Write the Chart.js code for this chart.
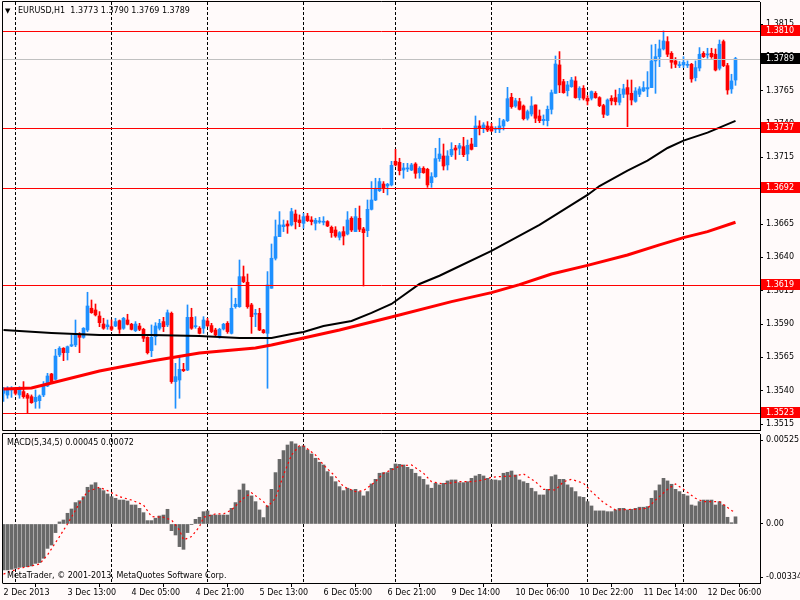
<!DOCTYPE html>
<html>
<head>
<meta charset="utf-8">
<title>EURUSD,H1</title>
<script src="https://cdn.jsdelivr.net/npm/chart.js@4.4.1/dist/chart.umd.min.js"></script>
<style>
  html, body { margin: 0; padding: 0; background: #fffafa; }
  #wrap { position: relative; width: 800px; height: 600px; overflow: hidden; }
  #priceChart { position: absolute; left: 0; top: 0; }
  #macdChart { position: absolute; left: 0; top: 433px; }
</style>
</head>
<body>
<div id="wrap">
  <canvas id="priceChart" width="800" height="433"></canvas>
  <canvas id="macdChart" width="800" height="167"></canvas>
</div>
<script>
/* EURUSD H1 — MetaTrader style candles + MA + MACD */

// ─── DATA ─────────────────────────────────────────────────
// one entry per hourly bar, bar 0 = 2 Dec 2013 21:00
const opens = [
  1.3538, 1.35367, 1.35405, 1.3541, 1.35368, 1.35393, 1.35368, 1.35355, 1.35318, 1.35325,
  1.35368, 1.35435, 1.35525, 1.35485, 1.35668, 1.35718, 1.35685, 1.35735, 1.35743, 1.35825,
  1.358, 1.35855, 1.36018, 1.36005, 1.3596, 1.359, 1.3588, 1.3588, 1.35885, 1.35925,
  1.35868, 1.3593, 1.35898, 1.3585, 1.35885, 1.3586, 1.358, 1.357, 1.35805, 1.35868,
  1.35918, 1.35893, 1.3598, 1.35468, 1.3548, 1.3556, 1.35555, 1.3595, 1.3588, 1.35868,
  1.35868, 1.35923, 1.35888, 1.35855, 1.35805, 1.35863, 1.35905, 1.3583, 1.3603, 1.3603,
  1.36255, 1.36213, 1.36043, 1.35973, 1.3598, 1.35855, 1.3583, 1.36168, 1.36393, 1.36555,
  1.3663, 1.3665, 1.36643, 1.36725, 1.3668, 1.36655, 1.3671, 1.3668, 1.36655, 1.36665,
  1.36663, 1.36668, 1.36625, 1.36605, 1.3655, 1.36593, 1.36575, 1.36693, 1.36593, 1.36693,
  1.36613, 1.366, 1.3676, 1.3683, 1.369, 1.3695, 1.36935, 1.36943, 1.3712, 1.37113,
  1.37055, 1.37063, 1.37055, 1.371, 1.37035, 1.37068, 1.3706, 1.3696, 1.37005, 1.3714,
  1.3716, 1.37093, 1.37168, 1.3722, 1.37218, 1.3723, 1.37175, 1.3725, 1.3723, 1.37385,
  1.37368, 1.37385, 1.3738, 1.3736, 1.3736, 1.37385, 1.37425, 1.376, 1.37535, 1.37568,
  1.37535, 1.37443, 1.37475, 1.37543, 1.3746, 1.37425, 1.37425, 1.3751, 1.3763, 1.37843,
  1.37718, 1.3765, 1.3768, 1.37723, 1.37598, 1.37668, 1.37593, 1.37593, 1.3763, 1.37598,
  1.37538, 1.37468, 1.37593, 1.37598, 1.37563, 1.37623, 1.37673, 1.3763, 1.3757, 1.37623,
  1.37648, 1.37663, 1.37673, 1.37873, 1.37905, 1.37963, 1.38018, 1.3793, 1.37873, 1.37838,
  1.37843, 1.3784, 1.37848, 1.37748, 1.3782, 1.3793, 1.37918, 1.3793, 1.37923, 1.37818,
  1.38018, 1.37838, 1.37663, 1.3773
];
const highs = [
  1.35425, 1.3543, 1.3543, 1.35418, 1.3543, 1.35468, 1.3538, 1.35368, 1.35405, 1.35368,
  1.35468, 1.3553, 1.3553, 1.3571, 1.3573, 1.35723, 1.35735, 1.35818, 1.3593, 1.35835,
  1.35873, 1.36138, 1.3608, 1.3605, 1.35993, 1.35943, 1.3593, 1.3593, 1.35943, 1.3593,
  1.3595, 1.35973, 1.35905, 1.35918, 1.35905, 1.35868, 1.35805, 1.35893, 1.3591, 1.35935,
  1.3595, 1.36005, 1.3599, 1.35605, 1.3565, 1.35605, 1.36043, 1.36018, 1.35955, 1.3588,
  1.35955, 1.35943, 1.35905, 1.35868, 1.35868, 1.35905, 1.35918, 1.3617, 1.36093, 1.3638,
  1.36335, 1.36275, 1.36055, 1.3601, 1.36018, 1.3586, 1.36293, 1.365, 1.3668, 1.36743,
  1.3668, 1.36675, 1.36768, 1.36755, 1.36718, 1.3673, 1.3673, 1.36705, 1.36693, 1.367,
  1.36705, 1.36675, 1.36635, 1.3663, 1.36593, 1.3663, 1.36743, 1.36705, 1.36768, 1.36785,
  1.36625, 1.3683, 1.36968, 1.36993, 1.36993, 1.36968, 1.36955, 1.3712, 1.3721, 1.37143,
  1.37105, 1.37105, 1.37105, 1.3711, 1.3708, 1.3708, 1.37068, 1.37035, 1.37218, 1.37293,
  1.3725, 1.372, 1.3726, 1.3724, 1.37255, 1.373, 1.3728, 1.37293, 1.3746, 1.37425,
  1.3741, 1.37418, 1.37405, 1.3738, 1.37443, 1.37435, 1.37675, 1.3763, 1.37593, 1.37593,
  1.37543, 1.37505, 1.37605, 1.37543, 1.37505, 1.37468, 1.37535, 1.37655, 1.3791, 1.37943,
  1.37735, 1.3772, 1.3775, 1.37755, 1.3768, 1.37688, 1.37613, 1.37648, 1.37643, 1.37605,
  1.37548, 1.37588, 1.37613, 1.37655, 1.37668, 1.37698, 1.3773, 1.3773, 1.37673, 1.3768,
  1.37718, 1.37793, 1.37993, 1.37998, 1.3803, 1.38098, 1.38055, 1.37943, 1.37898, 1.37868,
  1.37905, 1.37873, 1.37855, 1.37873, 1.37973, 1.37943, 1.37968, 1.37968, 1.37963, 1.3803,
  1.3803, 1.37855, 1.37773, 1.379
];
const lows = [
  1.3532, 1.35343, 1.3535, 1.35368, 1.35343, 1.35343, 1.3523, 1.35305, 1.35268, 1.35268,
  1.35355, 1.3543, 1.35455, 1.3548, 1.35655, 1.35625, 1.3563, 1.3573, 1.3573, 1.35685,
  1.35793, 1.35843, 1.3598, 1.3596, 1.3588, 1.3586, 1.3586, 1.3585, 1.3588, 1.3583,
  1.3586, 1.35893, 1.35855, 1.35843, 1.3585, 1.35768, 1.35675, 1.35655, 1.35743, 1.35855,
  1.35843, 1.3588, 1.35455, 1.35268, 1.35343, 1.35543, 1.3555, 1.3586, 1.35868, 1.35825,
  1.3583, 1.3588, 1.35835, 1.35805, 1.35793, 1.35855, 1.3583, 1.35825, 1.36018, 1.36025,
  1.3621, 1.36018, 1.3583, 1.3588, 1.3585, 1.3583, 1.35418, 1.36168, 1.3638, 1.36555,
  1.36593, 1.3658, 1.36635, 1.36613, 1.3663, 1.36618, 1.36668, 1.36643, 1.36605, 1.36655,
  1.36643, 1.3663, 1.3655, 1.3655, 1.3653, 1.36493, 1.36568, 1.36593, 1.36593, 1.36593,
  1.36185, 1.36555, 1.36755, 1.36825, 1.36893, 1.36885, 1.36868, 1.36935, 1.37085, 1.37018,
  1.36993, 1.37043, 1.3705, 1.36993, 1.36993, 1.3703, 1.36925, 1.36925, 1.37, 1.3712,
  1.37055, 1.37055, 1.37155, 1.37135, 1.3717, 1.37155, 1.37125, 1.37205, 1.3723, 1.37318,
  1.37335, 1.37343, 1.37343, 1.37335, 1.37335, 1.37355, 1.37418, 1.37518, 1.37525, 1.37505,
  1.3743, 1.3743, 1.3746, 1.3741, 1.3741, 1.37393, 1.37385, 1.37475, 1.3763, 1.37635,
  1.3763, 1.3761, 1.37675, 1.37593, 1.3758, 1.3758, 1.37543, 1.3758, 1.37593, 1.3753,
  1.37448, 1.37463, 1.37543, 1.37543, 1.37543, 1.37598, 1.3738, 1.37543, 1.37563, 1.37605,
  1.37643, 1.37605, 1.37673, 1.3763, 1.3783, 1.37955, 1.37905, 1.37818, 1.37823, 1.37823,
  1.37823, 1.37823, 1.37713, 1.37723, 1.37798, 1.37898, 1.37893, 1.37893, 1.37798, 1.37805,
  1.3783, 1.37623, 1.3763, 1.3769
];
const closes = [
  1.3541, 1.35418, 1.35415, 1.3538, 1.35418, 1.35355, 1.35343, 1.3531, 1.3535, 1.3536,
  1.35443, 1.3551, 1.35468, 1.3566, 1.35718, 1.35685, 1.3573, 1.35745, 1.3583, 1.358,
  1.35868, 1.36035, 1.35985, 1.35968, 1.3591, 1.35868, 1.35893, 1.3586, 1.35918, 1.3586,
  1.35943, 1.35898, 1.3586, 1.359, 1.3586, 1.35793, 1.35685, 1.358, 1.35885, 1.35905,
  1.3588, 1.35985, 1.35468, 1.35505, 1.3556, 1.3555, 1.3595, 1.35868, 1.35885, 1.3583,
  1.3593, 1.35888, 1.35843, 1.35818, 1.3586, 1.35898, 1.35843, 1.36018, 1.36048, 1.36255,
  1.36218, 1.3603, 1.35955, 1.3598, 1.35855, 1.35835, 1.36193, 1.36393, 1.36555, 1.36643,
  1.36643, 1.36635, 1.36743, 1.36668, 1.3666, 1.36705, 1.36675, 1.36668, 1.36678, 1.36673,
  1.36668, 1.36635, 1.36585, 1.3656, 1.36585, 1.3656, 1.3668, 1.36605, 1.36705, 1.3661,
  1.36585, 1.3676, 1.3683, 1.36918, 1.36968, 1.36918, 1.36948, 1.3709, 1.37093, 1.3705,
  1.3707, 1.37068, 1.37093, 1.3703, 1.37068, 1.37035, 1.36943, 1.37005, 1.3714, 1.37175,
  1.37085, 1.3716, 1.3721, 1.37205, 1.37238, 1.3717, 1.3724, 1.3721, 1.37385, 1.37368,
  1.37393, 1.37355, 1.37348, 1.37368, 1.37385, 1.37425, 1.3759, 1.3753, 1.37575, 1.3751,
  1.3744, 1.37493, 1.37535, 1.37443, 1.37425, 1.37435, 1.3751, 1.37635, 1.3785, 1.37693,
  1.37635, 1.37693, 1.3773, 1.37598, 1.37668, 1.37593, 1.37573, 1.37643, 1.37598, 1.37538,
  1.37473, 1.3758, 1.37573, 1.37568, 1.37623, 1.37663, 1.37623, 1.3758, 1.37648, 1.37663,
  1.37673, 1.37673, 1.37873, 1.37905, 1.37963, 1.38023, 1.37923, 1.37863, 1.37848, 1.37843,
  1.37863, 1.37843, 1.37738, 1.37823, 1.37923, 1.37905, 1.3792, 1.37905, 1.37805, 1.37998,
  1.37838, 1.37655, 1.37723, 1.3789
];

// moving averages, read at a few bars along each line
const maBlackBars = [0, 12, 24, 37, 49, 59, 67, 72, 75, 80, 87, 92, 97, 104, 109, 112, 122, 134, 146, 149, 156, 161, 166, 170, 176, 183];
const maBlackVals = [1.35855, 1.35833, 1.35818, 1.35818, 1.3581, 1.35795, 1.35795, 1.35825, 1.3584, 1.35885, 1.35923, 1.35983, 1.3605, 1.362, 1.36262, 1.36305, 1.36448, 1.36643, 1.36868, 1.36935, 1.3705, 1.37125, 1.3722, 1.37275, 1.37335, 1.37423];
const maRedBars = [0, 7, 12, 24, 37, 49, 63, 67, 75, 84, 97, 112, 122, 129, 137, 146, 156, 164, 170, 176, 183];
const maRedVals = [1.35413, 1.3542, 1.35458, 1.35548, 1.35623, 1.35683, 1.3572, 1.35743, 1.35795, 1.35855, 1.35953, 1.36068, 1.36135, 1.36195, 1.36275, 1.3634, 1.36418, 1.36493, 1.36548, 1.36593, 1.36663];

// MACD(5,34,5) histogram, one per bar
const macdHist = [
  -0.00288, -0.00288, -0.00284, -0.00278, -0.00272, -0.00268, -0.00268, -0.00263, -0.00247, -0.00242,
  -0.00215, -0.00153, -0.00132, -0.00054, 0.00013, 0.00025, 0.00067, 0.00094, 0.00134, 0.00146,
  0.00171, 0.0023, 0.00245, 0.00259, 0.00224, 0.00209, 0.00188, 0.00171, 0.00161, 0.0015,
  0.0015, 0.00144, 0.00119, 0.00119, 0.00098, 0.00071, 0.00021, 0.00021, 0.00036, 0.0005,
  0.00056, 0.00092, -0.00042, -0.00069, -0.00142, -0.00159, -0.00054, -0.00002, 0.00029, 0.00042,
  0.00077, 0.00082, 0.00056, 0.00056, 0.00056, 0.00056, 0.00056, 0.00098, 0.00134, 0.00213,
  0.00251, 0.00209, 0.00176, 0.0014, 0.00088, 0.0004, 0.00113, 0.00217, 0.00322, 0.00405,
  0.0046, 0.00495, 0.00516, 0.00502, 0.00485, 0.00489, 0.00464, 0.00439, 0.00412, 0.00387,
  0.0037, 0.00328, 0.00297, 0.00265, 0.00234, 0.00209, 0.00224, 0.00213, 0.00217, 0.00203,
  0.00176, 0.00203, 0.00251, 0.0028, 0.00318, 0.00322, 0.00322, 0.00349, 0.00376, 0.00374,
  0.0037, 0.00355, 0.00343, 0.00318, 0.00297, 0.0028, 0.00245, 0.00224, 0.00255, 0.00245,
  0.00255, 0.0027, 0.00276, 0.00276, 0.00259, 0.00259, 0.00265, 0.00286, 0.00301, 0.00311,
  0.00301, 0.00286, 0.00276, 0.00276, 0.00272, 0.00318, 0.00324, 0.00332, 0.00307, 0.00276,
  0.00265, 0.00255, 0.00224, 0.00203, 0.00182, 0.00182, 0.00217, 0.00297, 0.00307, 0.0028,
  0.0028, 0.00245, 0.00228, 0.00203, 0.00171, 0.00167, 0.0014, 0.00113, 0.00082, 0.00082,
  0.00082, 0.00077, 0.00077, 0.00088, 0.00098, 0.00098, 0.00088, 0.00092, 0.00098, 0.00105,
  0.00105, 0.00109, 0.00161, 0.00209, 0.00245, 0.00286, 0.0027, 0.00249, 0.00217, 0.00203,
  0.00186, 0.00176, 0.00119, 0.00113, 0.0014, 0.0015, 0.0015, 0.0015, 0.00119, 0.0014,
  0.00119, 0.00042, 0.00008, 0.00045
];
// signal line, read at a few bars
const signalBars = [0, 4, 6, 9, 11, 14, 16, 19, 21, 24, 26, 29, 32, 35, 37, 40, 42, 44, 45, 47,
  49, 50, 53, 55, 57, 60, 62, 65, 66, 68, 70, 72, 74, 75, 78, 80, 83, 85, 88, 90,
  93, 95, 98, 99, 102, 105, 107, 110, 114, 117, 120, 122, 124, 128, 130, 133, 135, 138, 140, 142,
  145, 147, 150, 153, 158, 161, 163, 166, 168, 170, 173, 175, 179, 182, 183];
const signalVals = [-0.00314, -0.00278, -0.00268, -0.00251, -0.00194, -0.00079, 0, 0.0013, 0.00203, 0.0023,
  0.00209, 0.00171, 0.0015, 0.00119, 0.00046, 0.00042, 0.00025, -0.00038, -0.001, -0.00079,
  -0.00017, 0.00042, 0.00063, 0.00063, 0.00088, 0.00161, 0.00196, 0.0014, 0.00109, 0.00161,
  0.00307, 0.00433, 0.00491, 0.00489, 0.00433, 0.0037, 0.00297, 0.00234, 0.00203, 0.00209,
  0.00265, 0.00318, 0.00349, 0.00364, 0.0037, 0.00318, 0.00265, 0.00251, 0.00265, 0.00265,
  0.00276, 0.00293, 0.00297, 0.00301, 0.00314, 0.00265, 0.00217, 0.00213, 0.00265, 0.0028,
  0.00255, 0.00203, 0.00134, 0.00088, 0.00092, 0.00098, 0.0015, 0.00217, 0.00251, 0.00217,
  0.00161, 0.0014, 0.0014, 0.00085, 0.00072];

// horizontal lines and bid
const levelPrices = [1.3810, 1.3737, 1.3692, 1.3619, 1.3523];
const bidPrice = 1.3789;

// axes
const priceTicks = [1.3515, 1.3540, 1.3565, 1.3590, 1.3615, 1.3640, 1.3665, 1.3690, 1.3715, 1.3740, 1.3765, 1.3790, 1.3815];
const macdTicks = [-0.00334, 0, 0.00525];
const timeTickBars = [0, 16, 32, 48, 64, 80, 96, 112, 128, 144, 160, 176];
const timeTickLabels = ['2 Dec 2013', '3 Dec 13:00', '4 Dec 05:00', '4 Dec 21:00', '5 Dec 13:00', '6 Dec 05:00',
  '6 Dec 21:00', '9 Dec 14:00', '10 Dec 06:00', '10 Dec 22:00', '11 Dec 14:00', '12 Dec 06:00'];
const dayStartBars = [3, 27, 51, 75, 98, 122, 146, 170];

// ─── STYLE ────────────────────────────────────────────────
const FONT_FAMILY = "'DejaVu Sans', sans-serif";
const FONT = "8px " + FONT_FAMILY;
Chart.defaults.font.family = FONT_FAMILY;
Chart.defaults.font.size = 8;
Chart.defaults.color = '#000';

const C = {
  bg: '#fffafa',
  bull: '#1e90ff',
  bear: '#ff0000',
  level: '#ff0000',
  bid: '#c0c0c0',
  hist: '#696969',
};

// 4 px per bar, first bar centred 0.5 px inside the plot
const X_MIN = -0.125, X_MAX = 189.125;
const PRICE_MIN = 1.35105, PRICE_MAX = 1.38315;
const MACD_MIN = -0.0037, MACD_MAX = 0.00564;

const bars = closes.map((c, i) => i);
const candleColors = bars.map(i => closes[i] >= opens[i] ? C.bull : C.bear);
const last = bars.length - 1;

// keep the plot rectangle fixed: no extra room for edge labels
function fixWidth(s) { s.width = 40; s.paddingTop = 0; s.paddingBottom = 0; }
function fixHeight(s) { s.height = 17; s.paddingLeft = 0; s.paddingRight = 0; }

// ─── SHARED DRAW HELPERS ──────────────────────────────────
function fillBackground(chart) {
  const { ctx, width, height } = chart;
  ctx.save();
  ctx.fillStyle = C.bg;
  ctx.fillRect(0, 0, width, height);
  ctx.restore();
}

function drawDayLines(chart) {
  const { ctx, chartArea: a, scales: { x } } = chart;
  ctx.save();
  ctx.strokeStyle = '#000';
  ctx.lineWidth = 1;
  ctx.setLineDash([3, 2]);
  dayStartBars.forEach(b => {
    const px = Math.floor(x.getPixelForValue(b)) + 0.5;
    ctx.beginPath();
    ctx.moveTo(px, a.top);
    ctx.lineTo(px, a.bottom);
    ctx.stroke();
  });
  ctx.restore();
}

function drawFrame(chart, withBottom) {
  const { ctx, chartArea: a } = chart;
  ctx.save();
  ctx.strokeStyle = '#000';
  ctx.lineWidth = 1;
  ctx.setLineDash([]);
  ctx.beginPath();
  ctx.moveTo(a.left - 0.5, a.bottom + 0.5);
  ctx.lineTo(a.left - 0.5, a.top - 0.5);
  ctx.lineTo(a.right, a.top - 0.5);
  if (withBottom) {
    ctx.moveTo(a.left - 0.5, a.bottom + 0.5);
    ctx.lineTo(a.right, a.bottom + 0.5);
  }
  ctx.stroke();
  ctx.restore();
}

// ─── 1. PRICE PANEL ───────────────────────────────────────
const priceDecor = {
  id: 'priceDecor',
  beforeDraw: fillBackground,
  beforeDatasetsDraw: drawDayLines,
  afterDatasetsDraw(chart) {
    const { ctx, chartArea: a, scales: { y } } = chart;
    ctx.save();
    ctx.lineWidth = 1;
    ctx.setLineDash([]);
    const hline = (v, col) => {
      const py = Math.round(y.getPixelForValue(v)) + 0.5;
      ctx.strokeStyle = col;
      ctx.beginPath();
      ctx.moveTo(a.left, py);
      ctx.lineTo(a.right, py);
      ctx.stroke();
    };
    hline(bidPrice, C.bid);
    levelPrices.forEach(v => hline(v, C.level));
    ctx.restore();
  },
  afterDraw(chart) {
    const { ctx, chartArea: a, scales: { y } } = chart;
    drawFrame(chart, true);
    ctx.save();
    ctx.font = FONT;
    ctx.textBaseline = 'middle';
    ctx.textAlign = 'left';
    const tag = (v, bg) => {
      const py = Math.round(y.getPixelForValue(v));
      ctx.fillStyle = bg;
      ctx.fillRect(a.right + 1, py - 6, 39, 11);
      ctx.fillStyle = '#fff';
      ctx.fillText(v.toFixed(4), a.right + 6, py);
    };
    levelPrices.forEach(v => tag(v, C.level));
    tag(bidPrice, '#000');

    // header
    ctx.fillStyle = '#000';
    ctx.font = "7px " + FONT_FAMILY;
    ctx.fillText('\u25BC', 5, 11);
    ctx.font = FONT;
    const ohlc = [opens, highs, lows, closes].map(s => s[last].toFixed(4)).join(' ');
    ctx.fillText('EURUSD,H1  ' + ohlc, 18, 11);
    ctx.restore();
  }
};

function buildPriceChart() {
  const ctx = document.getElementById('priceChart');
  new Chart(ctx, {
    type: 'bar',
    data: {
      datasets: [
        {
          type: 'line',
          label: 'MA black',
          data: maBlackBars.map((b, k) => ({ x: b, y: maBlackVals[k] })),
          borderColor: '#000',
          borderWidth: 2,
          pointRadius: 0,
          tension: 0,
          order: 0,
        },
        {
          type: 'line',
          label: 'MA red',
          data: maRedBars.map((b, k) => ({ x: b, y: maRedVals[k] })),
          borderColor: '#ff0000',
          borderWidth: 3,
          pointRadius: 0,
          tension: 0,
          order: 0,
        },
        {
          label: 'bodies',
          data: bars.map(i => ({ x: i, y: [opens[i], closes[i]] })),
          backgroundColor: candleColors,
          borderWidth: 0,
          barThickness: 3,
          minBarLength: 1,
          grouped: false,
          order: 1,
        },
        {
          label: 'wicks',
          data: bars.map(i => ({ x: i, y: [lows[i], highs[i]] })),
          backgroundColor: candleColors,
          borderWidth: 0,
          barThickness: 1,
          minBarLength: 1,
          grouped: false,
          order: 2,
        },
      ],
    },
    options: {
      responsive: false,
      animation: false,
      devicePixelRatio: 1,
      layout: { padding: { left: 3, top: 2, right: 0, bottom: 3 } },
      plugins: { legend: { display: false }, tooltip: { enabled: false } },
      scales: {
        x: { type: 'linear', min: X_MIN, max: X_MAX, offset: false, display: false },
        y: {
          position: 'right',
          min: PRICE_MIN,
          max: PRICE_MAX,
          afterFit: fixWidth,
          afterBuildTicks: s => { s.ticks = priceTicks.map(v => ({ value: v })); },
          ticks: { autoSkip: false, padding: 3, color: '#000', callback: v => v.toFixed(4) },
          grid: { drawOnChartArea: false, drawTicks: true, tickLength: 3, color: '#000' },
          border: { display: true, color: '#000' },
        },
      },
    },
    plugins: [priceDecor],
  });
}

// ─── 2. MACD PANEL ────────────────────────────────────────
const macdDecor = {
  id: 'macdDecor',
  beforeDraw: fillBackground,
  beforeDatasetsDraw: drawDayLines,
  afterDraw(chart) {
    const { ctx, chartArea: a } = chart;
    drawFrame(chart, false);
    ctx.save();
    ctx.font = FONT;
    ctx.fillStyle = '#000';
    ctx.textBaseline = 'middle';
    ctx.textAlign = 'left';
    ctx.fillText('MACD(5,34,5) ' + macdHist[last].toFixed(5) + ' ' + signalVals[signalVals.length - 1].toFixed(5), 7, a.top + 9);
    ctx.fillText('MetaTrader, \u00A9 2001-2013, MetaQuotes Software Corp.', 7, a.bottom - 7);
    ctx.restore();
  }
};

function buildMacdChart() {
  const ctx = document.getElementById('macdChart');
  new Chart(ctx, {
    type: 'bar',
    data: {
      datasets: [
        {
          type: 'line',
          label: 'Signal',
          data: signalBars.map((b, k) => ({ x: b, y: signalVals[k] })),
          borderColor: '#ff0000',
          borderWidth: 1.2,
          borderDash: [2, 3],
          pointRadius: 0,
          tension: 0,
          order: 0,
        },
        {
          label: 'MACD',
          data: bars.map(i => ({ x: i, y: macdHist[i] })),
          backgroundColor: C.hist,
          borderWidth: 0,
          barThickness: 3,
          grouped: false,
          order: 1,
        },
      ],
    },
    options: {
      responsive: false,
      animation: false,
      devicePixelRatio: 1,
      layout: { padding: { left: 3, top: 1, right: 0, bottom: 0 } },
      plugins: { legend: { display: false }, tooltip: { enabled: false } },
      scales: {
        x: {
          type: 'linear',
          min: X_MIN,
          max: X_MAX,
          offset: false,
          afterFit: fixHeight,
          afterBuildTicks: s => { s.ticks = timeTickBars.map(v => ({ value: v })); },
          ticks: {
            autoSkip: false,
            maxRotation: 0,
            minRotation: 0,
            align: 'start',
            padding: 1,
            color: '#000',
            callback: v => timeTickLabels[timeTickBars.indexOf(v)],
          },
          grid: { drawOnChartArea: false, drawTicks: true, tickLength: 4, color: '#000' },
          border: { display: true, color: '#000' },
        },
        y: {
          position: 'right',
          min: MACD_MIN,
          max: MACD_MAX,
          afterFit: fixWidth,
          afterBuildTicks: s => { s.ticks = macdTicks.map(v => ({ value: v })); },
          ticks: { autoSkip: false, padding: 3, color: '#000', callback: v => v === 0 ? '0.00' : v.toFixed(5) },
          grid: { drawOnChartArea: false, drawTicks: true, tickLength: 3, color: '#000' },
          border: { display: true, color: '#000' },
        },
      },
    },
    plugins: [macdDecor],
  });
}

// ─── INIT ──────────────────────────────────────────────────
buildPriceChart();
buildMacdChart();
</script>
</body>
</html>
